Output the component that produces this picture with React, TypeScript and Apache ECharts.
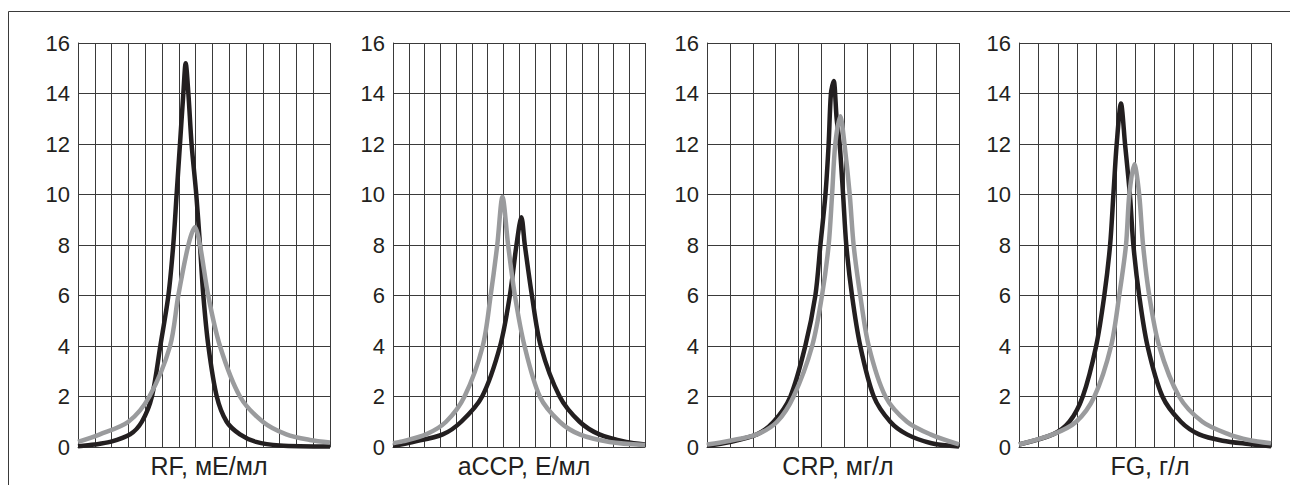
import React, { useEffect, useRef } from "react";
import * as echarts from "echarts";

const panelNames = ["RF, мЕ/мл", "aCCP, Е/мл", "CRP, мг/л", "FG, г/л"];
const panelXMax = [15, 16, 11, 13];
const yTicks = [0, 2, 4, 6, 8, 10, 12, 14, 16];

// peak points are listed twice so that the smoothed line keeps a sharp tip
const rfBlack = [[0, 0.03], [1, 0.1], [1.9, 0.2], [3.1, 0.5], [3.8, 1], [4.4, 2], [4.9, 4], [5.38, 6], [5.67, 8], [5.87, 10], [6.07, 12], [6.27, 14], [6.41, 15.2], [6.41, 15.2], [6.57, 14], [6.76, 12], [7.04, 10], [7.26, 8], [7.46, 6], [7.76, 4], [8.26, 2], [8.85, 1], [9.64, 0.5], [10.6, 0.2], [12, 0.06], [15, 0.02]];
const rfGrey = [[0, 0.2], [1.3, 0.5], [3.0, 1], [4.25, 2], [5.48, 4], [5.97, 6], [6.57, 8], [6.96, 8.7], [6.96, 8.7], [7.26, 8], [7.75, 6], [8.45, 4], [9.64, 2], [11.0, 1], [12.4, 0.5], [13.8, 0.28], [15, 0.18]];

const accpBlack = [[0, 0.05], [1.25, 0.2], [3.16, 0.5], [4.33, 1], [5.66, 2], [6.8, 4], [7.42, 6], [7.84, 8], [8.15, 9.1], [8.15, 9.1], [8.37, 8], [8.82, 6], [9.38, 4], [10.58, 2], [11.85, 1], [13.1, 0.5], [14.8, 0.2], [16, 0.1]];
const accpGrey = [[0, 0.15], [0.6, 0.22], [2.1, 0.5], [3.37, 1], [4.54, 2], [5.7, 4], [6.2, 6], [6.62, 8], [6.95, 9.9], [6.95, 9.9], [7.31, 8], [7.74, 6], [8.35, 4], [9.32, 2], [10.58, 1], [11.85, 0.5], [13.75, 0.2], [16, 0.08]];

const crpBlack = [[0, 0.05], [1, 0.2], [2.18, 0.5], [2.91, 1], [3.64, 2], [4.29, 4], [4.73, 6], [4.95, 8], [5.17, 10], [5.31, 12], [5.41, 14], [5.53, 14.5], [5.53, 14.5], [5.66, 13], [5.79, 12], [5.94, 10], [6.08, 8], [6.33, 6], [6.69, 4], [7.28, 2], [8.0, 1], [8.73, 0.5], [9.8, 0.15], [11, 0.02]];
const crpGrey = [[0, 0.1], [1, 0.25], [2.18, 0.5], [3.06, 1], [3.78, 2], [4.59, 4], [5.02, 6], [5.31, 8], [5.46, 10], [5.6, 12], [5.82, 13.1], [5.82, 13.1], [6.0, 12], [6.23, 10], [6.4, 8], [6.69, 6], [7.06, 4], [7.79, 2], [8.73, 1], [9.75, 0.5], [11, 0.1]];

const fgBlack = [[0, 0.1], [1.75, 0.5], [2.6, 1], [3.29, 2], [3.98, 4], [4.4, 6], [4.7, 8], [4.87, 10], [5.04, 12], [5.26, 13.6], [5.26, 13.6], [5.47, 12], [5.72, 10], [5.9, 8], [6.2, 6], [6.63, 4], [7.4, 2], [8.35, 1], [9.29, 0.5], [10.5, 0.25], [11.85, 0.12], [13, 0.03]];
const fgGrey = [[0, 0.1], [1.75, 0.5], [2.95, 1], [3.89, 2], [4.75, 4], [5.17, 6], [5.52, 8], [5.69, 10], [5.95, 11.2], [5.95, 11.2], [6.2, 10], [6.4, 8], [6.72, 6], [7.23, 4], [8.26, 2], [9.46, 1], [10.83, 0.5], [11.85, 0.28], [13, 0.15]];

const blackSeries = [rfBlack, accpBlack, crpBlack, fgBlack];
const greySeries = [rfGrey, accpGrey, crpGrey, fgGrey];

const gridLefts = [78, 393, 707, 1019];
const gridWidth = 252;
const FONT = "'Liberation Sans', Arial, sans-serif";
const TEXT = "#231f20";
const LINE = "#3a3a3a";

export default function App() {
  const ref = useRef<HTMLDivElement>(null);
  useEffect(() => {
    if (!ref.current) return;
    const chart = echarts.init(ref.current, null, { renderer: "svg" });
    const grids = gridLefts.map((l) => ({ left: l, width: gridWidth, top: 43, height: 404 }));
    const xAxes = panelXMax.map((mx, i) => ({
      type: "value",
      gridIndex: i,
      min: 0,
      max: mx,
      interval: 1,
      name: panelNames[i],
      nameLocation: "middle",
      nameGap: 6,
      nameTextStyle: { fontSize: 25, color: TEXT, fontFamily: FONT, verticalAlign: "top", padding: [0, 0, 0, 10] },
      axisLine: { show: true, lineStyle: { color: LINE, width: 1 } },
      axisTick: { show: false },
      axisLabel: { show: false },
      splitLine: { show: true, lineStyle: { color: LINE, width: 1 } },
    }));
    const yAxes = panelXMax.map((_, i) => ({
      type: "value",
      gridIndex: i,
      min: yTicks[0],
      max: yTicks[yTicks.length - 1],
      interval: 2,
      axisLine: { show: true, lineStyle: { color: LINE, width: 1 } },
      axisTick: { show: false },
      axisLabel: { fontSize: 22, color: TEXT, fontFamily: FONT, margin: 8 },
      splitLine: { show: true, lineStyle: { color: LINE, width: 1 } },
    }));
    const series: any[] = [];
    for (let i = 0; i < 4; i++) {
      series.push({
        type: "line",
        xAxisIndex: i,
        yAxisIndex: i,
        data: blackSeries[i],
        showSymbol: false,
        smooth: 0.3,
        clip: false,
        lineStyle: { color: "#231f20", width: 4.5, join: "miter", miterLimit: 10 },
        z: 3,
      });
      series.push({
        type: "line",
        xAxisIndex: i,
        yAxisIndex: i,
        data: greySeries[i],
        showSymbol: false,
        smooth: 0.3,
        clip: false,
        lineStyle: { color: "#9a9b9d", width: 4.5, join: "miter", miterLimit: 10 },
        z: 4,
      });
    }
    chart.setOption({
      animation: false,
      backgroundColor: "#ffffff",
      grid: grids,
      xAxis: xAxes,
      yAxis: yAxes,
      series,
      graphic: [
        {
          type: "rect",
          shape: { x: 8.5, y: 11.5, width: 1300, height: 500 },
          style: { fill: "none", stroke: "#3a3a3a", lineWidth: 1 },
          silent: true,
          z: 0,
        },
      ],
    });
    return () => chart.dispose();
  }, []);
  return <div ref={ref} style={{ position: "absolute", left: 0, top: 0, width: 1290, height: 485 }} />;
}
